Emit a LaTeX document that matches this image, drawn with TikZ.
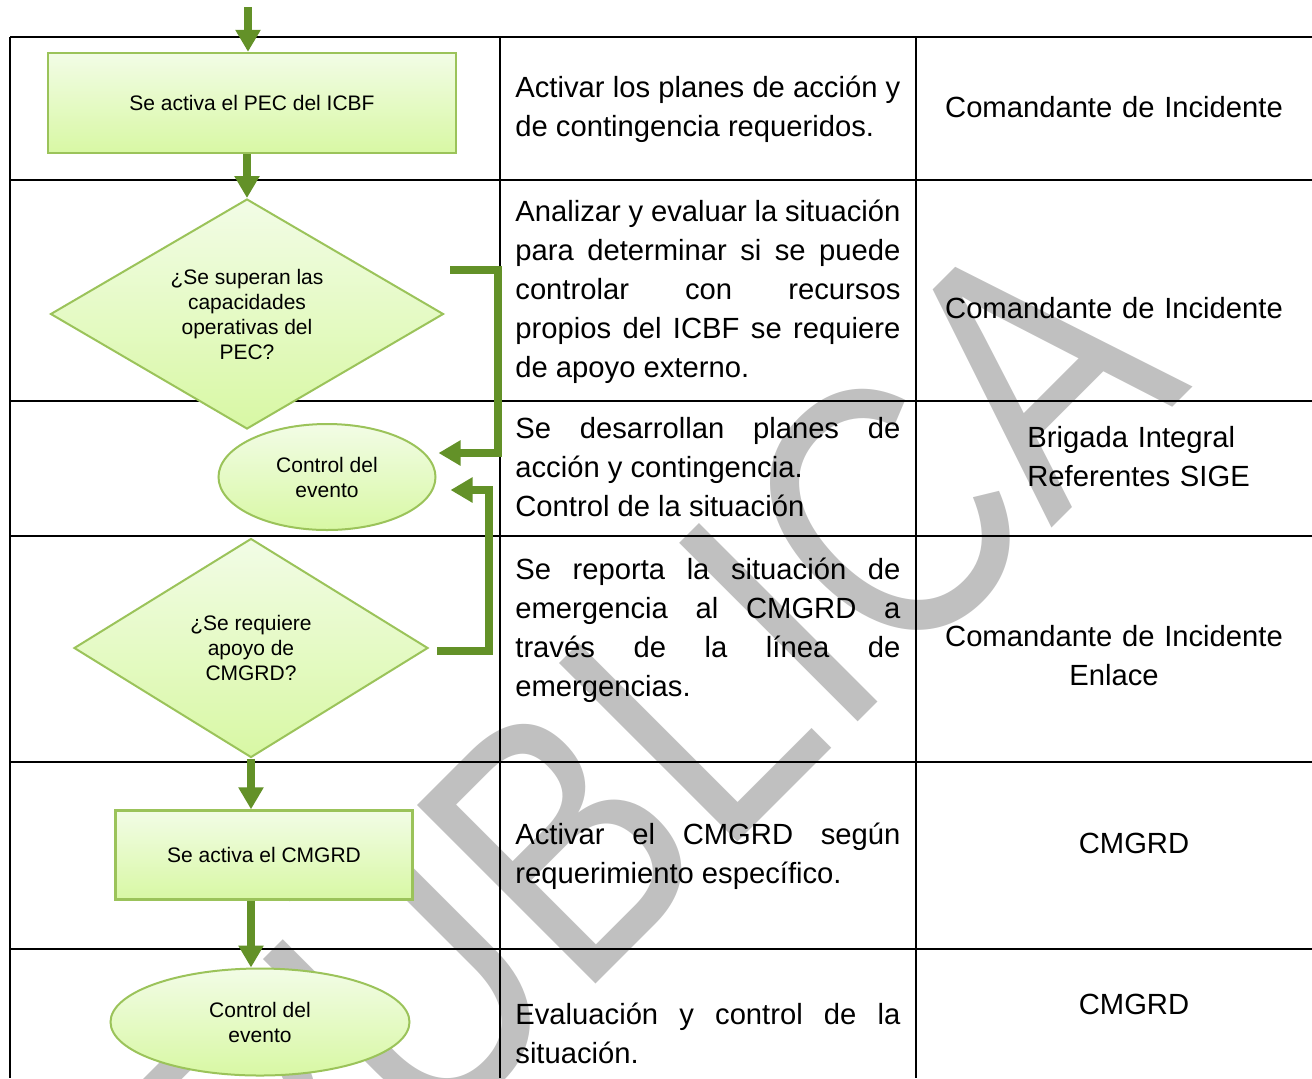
\documentclass[tikz,border=0pt]{standalone}
\usepackage{fontspec}
\setmainfont{Liberation Sans}
\usetikzlibrary{shapes.geometric, positioning, arrows.meta}

\definecolor{flowgreen}{RGB}{99,145,40}
\definecolor{shapeline}{RGB}{155,195,90}
\definecolor{filltop}{RGB}{242,252,230}
\definecolor{fillbottom}{RGB}{216,248,164}
\definecolor{markgray}{RGB}{192,192,192}

\begin{document}
\begin{tikzpicture}[x=0.5pt, y=-0.5pt,
        % Define styles for the flow chart and the table texts
        process/.style={rectangle, draw=shapeline, line width=1.2pt, top color=filltop, bottom color=fillbottom, font=\fontsize{10.5}{12.5}\selectfont, align=center},
        decision/.style={diamond, aspect=1.7, draw=shapeline, line width=1pt, top color=filltop, bottom color=fillbottom, font=\fontsize{10.5}{12.5}\selectfont, align=center, inner sep=0pt},
        terminal/.style={ellipse, draw=shapeline, line width=1pt, top color=filltop, bottom color=fillbottom, font=\fontsize{10.5}{12.5}\selectfont, align=center, inner sep=0pt},
        flow/.style={draw=flowgreen, line width=4pt, -{Triangle[length=11pt, width=12pt]}},
        desc/.style={anchor=base west, text width=192.5pt, align=justify, inner sep=0pt, font=\fontsize{14.6}{19.5}\selectfont, execute at begin node={\tolerance=10000\hbadness=10000}},
        role/.style={anchor=base, text width=190pt, align=center, inner sep=0pt, font=\fontsize{14.6}{19.5}\selectfont},
        tableline/.style={line width=1.2pt},
        watermark/.style={anchor=base east, inner sep=0pt, text=markgray, font=\fontsize{183.5}{200}\selectfont, rotate=45, xscale=0.82, transform shape}
    ]
        \path[use as bounding box, clip] (0,0) rectangle (1312,1078);

        % --------------------------------------------------------
        % Watermark behind everything
        % --------------------------------------------------------
        \node[watermark] (mark) at (1194,386) {PÚBLICA};

        % --------------------------------------------------------
        % Table frame
        % --------------------------------------------------------
        \foreach \y in {37,180,401,536,762,949}
            \draw[tableline] (10,\y) -- (1312,\y);
        \foreach \x in {10,500,916}
            \draw[tableline] (\x,37) -- (\x,1078);

        % --------------------------------------------------------
        % Middle column: activities
        % --------------------------------------------------------
        \node[desc] (act1) at (515,97) {Activar los planes de acción y\linebreak de contingencia requeridos.};
        \node[desc] (act2) at (515,221) {Analizar y evaluar la situación\linebreak para determinar si se puede\linebreak controlar con recursos\linebreak propios del ICBF se requiere\linebreak de apoyo externo.};
        \node[desc] (act3) at (515,438) {Se desarrollan planes de\linebreak acción y contingencia.\\ Control de la situación};
        \node[desc] (act4) at (515,579) {Se reporta la situación de\linebreak emergencia al CMGRD a\linebreak través de la línea de\linebreak emergencias.};
        \node[desc] (act5) at (515,844) {Activar el CMGRD según\linebreak requerimiento específico.};
        \node[desc] (act6) at (515,1024) {Evaluación y control de la\linebreak situación.};

        % --------------------------------------------------------
        % Right column: responsibles
        % --------------------------------------------------------
        \node[role] (resp1) at (1114,117) {Comandante de Incidente};
        \node[role] (resp2) at (1114,318) {Comandante de Incidente};
        \node[role, anchor=base west, align=left, text width=150pt] (resp3) at (1027,447) {Brigada Integral\\ Referentes SIGE};
        \node[role] (resp4) at (1114,646) {Comandante de Incidente\\ Enlace};
        \node[role] (resp5) at (1134,853) {CMGRD};
        \node[role] (resp6) at (1134,1014) {CMGRD};

        % --------------------------------------------------------
        % Left column: flow chart
        % --------------------------------------------------------
        \node[process, minimum width=204pt, minimum height=50pt] (pec) at (252,103) {Se activa el PEC del ICBF};
        \node[decision, minimum width=196.5pt, minimum height=115pt] (superan) at (247,314) {¿Se superan las\\ capacidades\\ operativas del\\ PEC?};
        \node[terminal, minimum width=108.5pt, minimum height=53pt] (control1) at (327,477) {Control del\\ evento};
        \node[decision, aspect=1.6, minimum width=177pt, minimum height=109.5pt] (apoyo) at (251,648) {¿Se requiere\\ apoyo de\\ CMGRD?};
        \node[process, minimum width=148.5pt, minimum height=44.5pt] (cmgrd) at (264,855) {Se activa el CMGRD};
        \node[terminal, minimum width=149.5pt, minimum height=53.5pt] (control2) at (260,1022) {Control del\\ evento};

        \coordinate (entry) at (248,7);
        \coordinate (out1) at (450,270);

        \draw[flow] (entry) -- (entry |- pec.north);
        \draw[flow] (superan.north |- pec.south) -- (superan.north);
        \draw[flow] (out1) -- ++(24pt,0) |- ([xshift=1pt, yshift=12pt]control1.east);
        \draw[flow] ([xshift=4pt, yshift=-1.5pt]apoyo.east) -- ++(26pt,0) |- ([xshift=7pt, yshift=-6.5pt]control1.east);
        \draw[flow] (apoyo.south) -- (apoyo.south |- cmgrd.north);
        \draw[flow] (apoyo.south |- cmgrd.south) -- (apoyo.south |- control2.north);

    \end{tikzpicture}
\end{document}
